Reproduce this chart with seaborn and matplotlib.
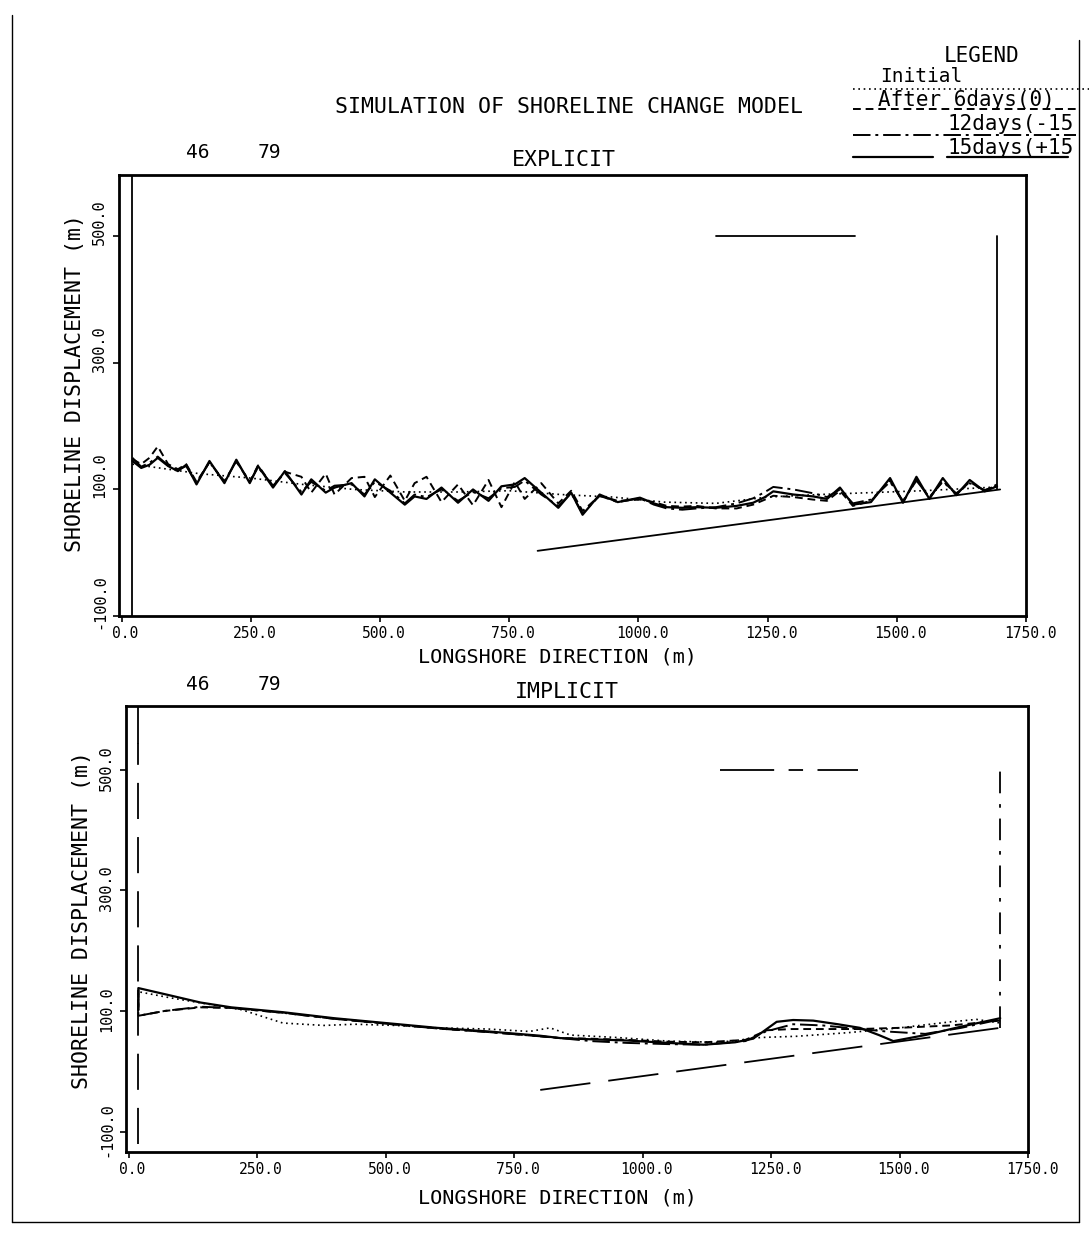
import numpy as np
import pandas as pd
import matplotlib
matplotlib.use("Agg")
import matplotlib.pyplot as plt
import matplotlib.transforms as mtransforms
import seaborn as sns
from matplotlib.lines import Line2D

sns.set_theme(style="white")
plt.rcParams['font.family'] = ['DejaVu Sans Mono', 'DejaVu Sans']
plt.rcParams['text.color'] = 'black'
plt.rcParams['axes.labelcolor'] = 'black'
plt.rcParams['xtick.color'] = 'black'
plt.rcParams['ytick.color'] = 'black'

W, H = 1089, 1235

# ---------------- DATA ----------------
# EXPLICIT panel
exp_initial_x = [21, 150, 250, 350, 450, 550, 650, 750, 850, 950, 1050, 1150, 1250, 1350, 1450, 1550, 1650, 1694]
exp_initial_y = [140, 125, 118, 108, 100, 96, 96, 98, 92, 88, 80, 78, 88, 92, 95, 98, 102, 104]

exp_15d_x = [21, 38, 54, 70, 90, 109, 125, 145, 170, 199, 222, 248, 264, 293, 316, 348, 367, 395, 412, 445,
             470, 490, 520, 548, 567, 590, 619, 651, 680, 710, 735, 761, 780, 812, 845, 870, 892, 925, 960, 1003,
             1030, 1055, 1085, 1113, 1150, 1190, 1222, 1245, 1261, 1300, 1338, 1365, 1390, 1415, 1450, 1487,
             1512, 1538, 1563, 1589, 1615, 1641, 1670, 1694]
exp_15d_y = [145, 134, 139, 150, 137, 129, 139, 108, 145, 110, 147, 110, 137, 103, 129, 92, 116, 95, 103, 110,
             89, 116, 95, 76, 89, 85, 103, 79, 100, 82, 105, 108, 118, 95, 71, 95, 60, 92, 80, 87,
             78, 72, 71, 72, 71, 74, 79, 88, 97, 92, 89, 85, 103, 76, 80, 118,
             79, 120, 85, 118, 91, 115, 97, 105]

exp_6d_x = exp_15d_x
exp_6d_y = [148, 140, 150, 168, 140, 132, 140, 112, 143, 113, 144, 112, 138, 105, 128, 120, 95, 125, 92, 118,
            120, 88, 122, 82, 110, 120, 80, 108, 75, 115, 72, 112, 85, 110, 78, 98, 66, 90, 82, 84,
            80, 74, 73, 74, 70, 70, 76, 84, 90, 88, 84, 82, 98, 74, 82, 114,
            80, 116, 86, 114, 92, 112, 98, 108]

exp_12d_x = exp_15d_x
exp_12d_y = [150, 136, 142, 152, 138, 131, 137, 110, 143, 112, 145, 112, 135, 106, 126, 96, 112, 98, 106, 108,
             92, 112, 98, 78, 92, 88, 100, 82, 96, 86, 102, 104, 114, 92, 74, 94, 62, 90, 80, 86,
             76, 70, 68, 70, 72, 78, 86, 96, 104, 100, 94, 88, 100, 78, 84, 112,
             82, 114, 88, 112, 94, 110, 99, 106]

# IMPLICIT panel
imp_initial_x = [19, 19, 80, 150, 220, 300, 380, 440, 520, 600, 700, 780, 820, 860, 950, 1050, 1150, 1230, 1300, 1400, 1500, 1600, 1650, 1696]
imp_initial_y = [100, 132, 122, 112, 102, 80, 76, 78, 76, 72, 70, 66, 72, 60, 56, 50, 48, 56, 58, 64, 72, 82, 86, 80]

imp_15d_x = [19, 19, 80, 140, 200, 300, 400, 500, 600, 700, 800, 840, 900, 970, 1050, 1119, 1180, 1215, 1235, 1261, 1293, 1332, 1380, 1423, 1460, 1488, 1550, 1620, 1696]
imp_15d_y = [102, 138, 126, 114, 106, 98, 88, 80, 72, 66, 59, 55, 53, 51, 47, 44, 48, 54, 66, 82, 85, 84, 78, 72, 60, 50, 60, 74, 88]

imp_6d_x = [19, 19, 70, 140, 200, 300, 400, 500, 600, 700, 800, 840, 900, 970, 1050, 1119, 1200, 1242, 1290, 1358, 1420, 1500, 1600, 1696]
imp_6d_y = [135, 92, 100, 106, 105, 97, 87, 79, 71, 65, 58, 55, 54, 52, 49, 48, 52, 68, 70, 70, 70, 72, 76, 84]

imp_12d_x = [19, 19, 70, 140, 200, 300, 400, 500, 600, 700, 800, 840, 900, 970, 1050, 1119, 1200, 1240, 1293, 1350, 1423, 1474, 1550, 1620, 1696]
imp_12d_y = [135, 92, 100, 107, 105, 97, 87, 79, 71, 65, 58, 55, 50, 47, 45, 44, 50, 66, 78, 76, 70, 66, 62, 72, 86]

# structures (groin / breakwater / baseline)
exp_wall_x = [1694, 1694]
exp_wall_y = [100, 500]
exp_bw_x = [1150, 1420]
exp_bw_y = [500, 500]
exp_slope_x = [805, 1700]
exp_slope_y = [3, 100]
exp_left_x = [21, 21]
exp_left_y = [-100, 600]

imp_wall_x = [1696, 1696]
imp_wall_y = [72, 500]
imp_bw_x = [1150, 1420]
imp_bw_y = [500, 500]
imp_slope_x = [801, 1696]
imp_slope_y = [-31, 72]
imp_left_top_x = [19, 19]
imp_left_top_y = [606, 545]
imp_left_x = [19, 19]
imp_left_y = [-120, 545]

xticks = [0, 250, 500, 750, 1000, 1250, 1500, 1750]
xticklabels = ["0.0", "250.0", "500.0", "750.0", "1000.0", "1250.0", "1500.0", "1750.0"]
yticks = [-100, 100, 300, 500]
yticklabels = ["-100.0", "100.0", "300.0", "500.0"]

# ---------------- FIGURE ----------------
fig = plt.figure(figsize=(W / 100, H / 100), dpi=100)
fig.patch.set_facecolor("white")

def fx(px):
    return px / W

def fy(py):
    return 1 - py / H

ax1 = fig.add_axes([fx(119), fy(616), (1026 - 119) / W, (616 - 175) / H])
ax2 = fig.add_axes([fx(126), fy(1152), (1028 - 126) / W, (1152 - 706) / H])

styles = {
    "initial": dict(linestyle=(0, (1, 2.2)), lw=1.2),
    "6d": dict(linestyle=(0, (4, 2.5)), lw=1.4),
    "12d": dict(linestyle=(0, (9, 2.5, 1.5, 2.5)), lw=1.4),
    "15d": dict(linestyle="-", lw=1.6),
}

def draw(ax, x, y, st):
    sns.lineplot(x=x, y=y, ax=ax, color="black", sort=False, estimator=None, **st)

# explicit
draw(ax1, exp_initial_x, exp_initial_y, styles["initial"])
draw(ax1, exp_6d_x, exp_6d_y, styles["6d"])
draw(ax1, exp_12d_x, exp_12d_y, styles["12d"])
draw(ax1, exp_15d_x, exp_15d_y, styles["15d"])
for xs, ys in [(exp_wall_x, exp_wall_y), (exp_bw_x, exp_bw_y), (exp_slope_x, exp_slope_y), (exp_left_x, exp_left_y)]:
    draw(ax1, xs, ys, dict(linestyle="-", lw=1.3))

# implicit
draw(ax2, imp_initial_x, imp_initial_y, styles["initial"])
draw(ax2, imp_6d_x, imp_6d_y, styles["6d"])
draw(ax2, imp_12d_x, imp_12d_y, styles["12d"])
draw(ax2, imp_15d_x, imp_15d_y, styles["15d"])
draw(ax2, imp_wall_x, imp_wall_y, dict(linestyle=(0, (12, 6, 2, 6)), lw=1.3))
draw(ax2, imp_bw_x, imp_bw_y, dict(linestyle=(0, (30, 8, 8, 8)), lw=1.3))
draw(ax2, imp_slope_x, imp_slope_y, dict(linestyle=(0, (28, 10)), lw=1.3))
draw(ax2, imp_left_top_x, imp_left_top_y, dict(linestyle="-", lw=1.3))
draw(ax2, imp_left_x, imp_left_y, dict(linestyle=(0, (20, 10)), lw=1.3))

for ax, ylim, yshift in [(ax1, (-100, 597), 14), (ax2, (-134, 606), 2)]:
    ax.set_xlim(-5, 1750)
    ax.set_ylim(*ylim)
    ax.set_xticks(xticks)
    ax.set_xticklabels(xticklabels, fontsize=10.5)
    ax.set_yticks(yticks)
    ax.set_yticklabels(yticklabels, fontsize=11, rotation=90, va="center")
    ax.tick_params(axis="both", direction="out", length=4, width=1.2, color="black", pad=3,
                   bottom=True, left=True)
    for s in ax.spines.values():
        s.set_color("black")
        s.set_linewidth(2.0)
    ax.set_xlabel("")
    ax.set_ylabel("")
    ax.set_facecolor("white")
    xoff = mtransforms.ScaledTranslation(4 / 100, 0, fig.dpi_scale_trans)
    for lab in ax.get_xticklabels():
        lab.set_transform(lab.get_transform() + xoff)
    yoff = mtransforms.ScaledTranslation(-2 / 100, yshift / 100, fig.dpi_scale_trans)
    for lab in ax.get_yticklabels():
        lab.set_transform(lab.get_transform() + yoff)

# axis labels
fig.text(fx(557), fy(657), "LONGSHORE DIRECTION (m)", ha="center", va="center", fontsize=14.5)
fig.text(fx(557), fy(1198), "LONGSHORE DIRECTION (m)", ha="center", va="center", fontsize=14.5)
fig.text(fx(75), fy(383), "SHORELINE DISPLACEMENT (m)", ha="center", va="center", fontsize=15.5, rotation=90)
fig.text(fx(82), fy(920), "SHORELINE DISPLACEMENT (m)", ha="center", va="center", fontsize=15.5, rotation=90)

# titles
fig.text(fx(569), fy(107), "SIMULATION OF SHORELINE CHANGE MODEL", ha="center", va="center", fontsize=15.5)
fig.text(fx(564), fy(160), "EXPLICIT", ha="center", va="center", fontsize=15.5)
fig.text(fx(567), fy(692), "IMPLICIT", ha="center", va="center", fontsize=15.5)
for yy in (152, 684):
    fig.text(fx(198), fy(yy), "46", ha="center", va="center", fontsize=14)
    fig.text(fx(269), fy(yy), "79", ha="center", va="center", fontsize=14)

# legend
fig.text(fx(982), fy(56), "LEGEND", ha="center", va="center", fontsize=15)
fig.text(fx(880), fy(77), "Initial", ha="left", va="center", fontsize=14)
fig.text(fx(878), fy(100), "After 6days(0)", ha="left", va="center", fontsize=15)
fig.text(fx(947), fy(124), "12days(-15", ha="left", va="center", fontsize=15)
fig.text(fx(947), fy(148), "15days(+15", ha="left", va="center", fontsize=15)
leg_lines = [
    ((853, 1089), 89, styles["initial"]),
    ((853, 1076), 109, styles["6d"]),
    ((853, 1076), 135, styles["12d"]),
    ((853, 933), 157, styles["15d"]),
    ((947, 1068), 157, styles["15d"]),
]
for (x0, x1), yy, st in leg_lines:
    fig.add_artist(Line2D([fx(x0), fx(x1)], [fy(yy), fy(yy)], color="black", **st))
fig.add_artist(Line2D([fx(1079), fx(1079)], [fy(40), fy(1222)], color="black", lw=1.0))

# page frame
fig.add_artist(Line2D([fx(12), fx(12)], [fy(15), fy(1222)], color="black", lw=1.0))
fig.add_artist(Line2D([fx(12), fx(1079)], [fy(1222), fy(1222)], color="black", lw=1.0))

fig.savefig("out.png", dpi=100, facecolor="white")
